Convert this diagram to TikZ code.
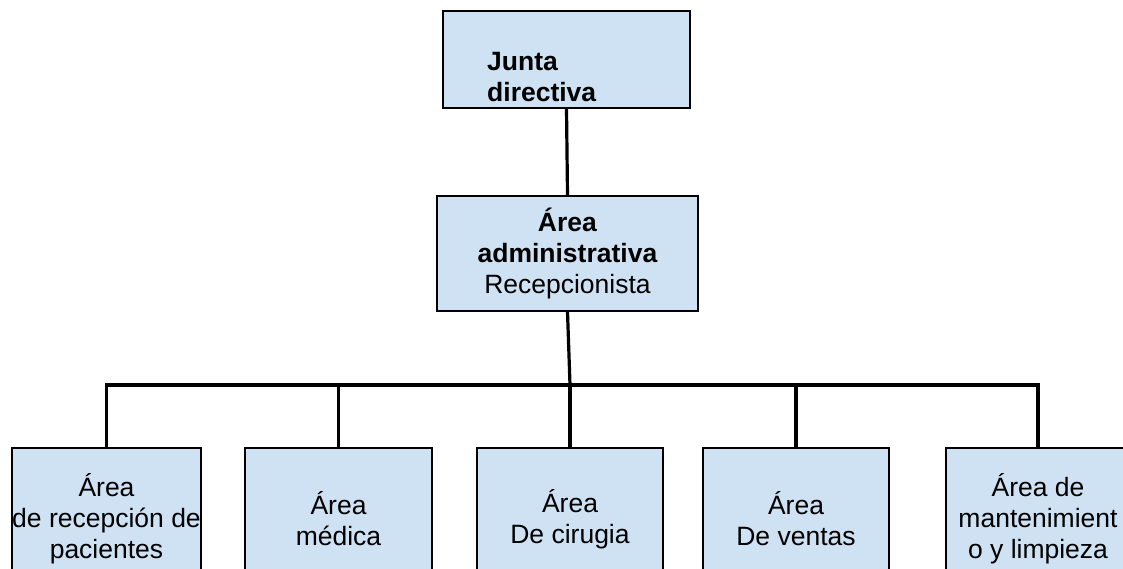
\documentclass[tikz,border=0pt]{standalone}
\usepackage{fontspec}
\setmainfont{Liberation Sans}
\definecolor{boxblue}{HTML}{CFE2F3}
\begin{document}
\begin{tikzpicture}[x=1pt,y=1pt,
  box/.style={draw=black,line width=1.8pt,fill=boxblue,inner sep=0pt,align=center,
    font=\fontsize{26.5}{31}\selectfont},
  conn/.style={draw=black,line width=3.2pt},
  lbl/.style={inner sep=0pt,align=left,font=\fontsize{26.5}{31}\selectfont\bfseries}]
\useasboundingbox (0,0) rectangle (1123,-569);
\clip (0,0) rectangle (1123,-569);
% top
\node[box,minimum width=247pt,minimum height=97pt] (jd) at (566.5,-59.5) {};
\node[lbl,anchor=base west] (jdt) at (487,-102) {Junta\\directiva};
% middle
\node[box,minimum width=261pt,minimum height=115pt] (adm) at (567.5,-253.5)
  {\textbf{Área}\\\textbf{administrativa}\\Recepcionista};
% bottom
\node[box,minimum width=187pt,minimum height=142pt] (b1) at (106.5,-519) {Área\\de recepción de\\pacientes};
\node[box,minimum width=187pt,minimum height=142pt] (b2) at (338.5,-519) {Área\\médica};
\node[box,minimum width=186pt,minimum height=142pt] (b3) at (570,-519) {Área\\De cirugia};
\node[box,minimum width=186pt,minimum height=142pt] (b4) at (796,-519) {Área\\De ventas};
\node[box,minimum width=184pt,minimum height=142pt] (b5) at (1038,-519) {Área de\\mantenimient\\o y limpieza};
\coordinate (hub) at (570,-385);
% connectors
\draw[conn] (jd.south) -- (adm.north);
\draw[conn] (adm.south) -- (hub);
\draw[conn] (b1.north) |- (hub) -| (b5.north);
\draw[conn] (b2.north) -- (b2.north |- hub);
\draw[conn] (b3.north) -- (hub);
\draw[conn] (b4.north) -- (b4.north |- hub);
\end{tikzpicture}
\end{document}
